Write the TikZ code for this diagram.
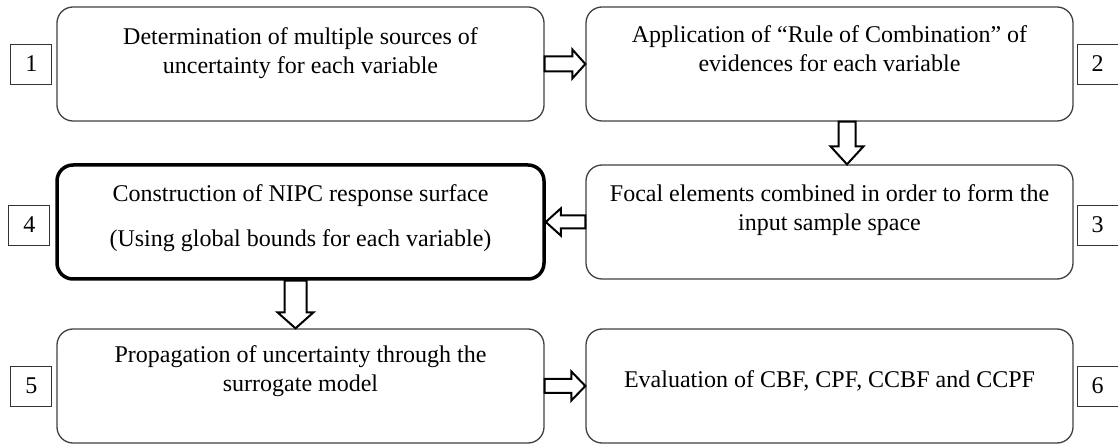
\documentclass[tikz,border=0pt]{standalone}
\usepackage{fontspec}
\setmainfont{Liberation Serif}
\usetikzlibrary{positioning,calc}
\begin{document}
\begin{tikzpicture}[x=1pt,y=1pt,
	every node/.style={font=\fontsize{24}{29}\selectfont},
	stage/.style={draw=black!75, line width=1.3pt, rounded corners=16pt, minimum width=487pt, minimum height=114pt, inner sep=0pt},
	keystage/.style={stage, draw=black, line width=3.5pt},
	txt/.style={align=center, inner sep=0pt},
	numbox/.style={draw=black!80, line width=0.9pt, minimum width=41pt, minimum height=40pt, inner sep=0pt},
	fat/.style={draw=black, line width=2pt, fill=white, line join=miter},
	hfat/.style n args={3}{fat, to path={
		($(\tikztostart)+(0,#1)$) -- ($(\tikztotarget)+(#3,#1)$) -- ($(\tikztotarget)+(#3,#2)$) -- (\tikztotarget)
		-- ($(\tikztotarget)+(#3,-#2)$) -- ($(\tikztotarget)+(#3,-#1)$) -- ($(\tikztostart)+(0,-#1)$) -- cycle}},
	vfat/.style n args={3}{fat, to path={
		($(\tikztostart)+(-#1,0)$) -- ($(\tikztotarget)+(-#1,#3)$) -- ($(\tikztotarget)+(-#2,#3)$) -- (\tikztotarget)
		-- ($(\tikztotarget)+(#2,#3)$) -- ($(\tikztotarget)+(#1,#3)$) -- ($(\tikztostart)+(#1,0)$) -- cycle}}]
	\useasboundingbox (0,0) rectangle (1118,444);
	\node[stage] (b1) at (300.5,380) {};
	\node[stage] (b2) at (829.5,380) {};
	\node[stage] (b3) at (829.5,222) {};
	\node[keystage] (b4) at (300.5,222) {};
	\node[stage] (b5) at (300.5,58) {};
	\node[stage] (b6) at (829.5,58) {};
	\node[txt, below=21.5pt of b1.north] (t1) {Determination of multiple sources of\\uncertainty for each variable};
	\node[txt, below=19.5pt of b2.north] (t2) {Application of “Rule of Combination” of\\evidences for each variable};
	\node[txt, below=20.5pt of b3.north] (t3) {Focal elements combined in order to form the\\input sample space};
	\node[txt, below=21.5pt of b4.north] (t4) {Construction of NIPC response surface\\[16pt](Using global bounds for each variable)};
	\node[txt, below=17.5pt of b5.north] (t5) {Propagation of uncertainty through the\\surrogate model};
	\node[txt, anchor=base] (t6) at ($(b6.center)+(0,-2)$) {Evaluation of CBF, CPF, CCBF and CCPF};
	\node[numbox, left=4pt of b1] (n1) {1};
	\node[numbox, right=3pt of b2] (n2) {2};
	\node[numbox, right=3pt of b3, yshift=-3pt] (n3) {3};
	\node[numbox, left=5pt of b4, yshift=-3pt] (n4) {4};
	\node[numbox, left=4pt of b5] (n5) {5};
	\node[numbox, right=3pt of b6] (n6) {6};
	\coordinate (d23a) at ($(b2.south)+(17.5,0)$);
	\coordinate (d23b) at ($(b3.north)+(17.5,0)$);
	\coordinate (d45a) at ($(b4.south)+(-5,0)$);
	\coordinate (d45b) at ($(b5.north)+(-5,0)$);
	\draw[hfat={7.5pt}{14.5pt}{-13pt}] (b1.east) to (b2.west);
	\draw[vfat={8.5pt}{16.5pt}{18pt}] (d23a) to (d23b);
	\draw[hfat={6.5pt}{13.5pt}{15pt}] (b3.west) to (b4.east);
	\draw[vfat={11pt}{18pt}{16pt}] (d45a) to (d45b);
	\draw[hfat={7pt}{14.5pt}{-14pt}] (b5.east) to (b6.west);
\end{tikzpicture}
\end{document}
